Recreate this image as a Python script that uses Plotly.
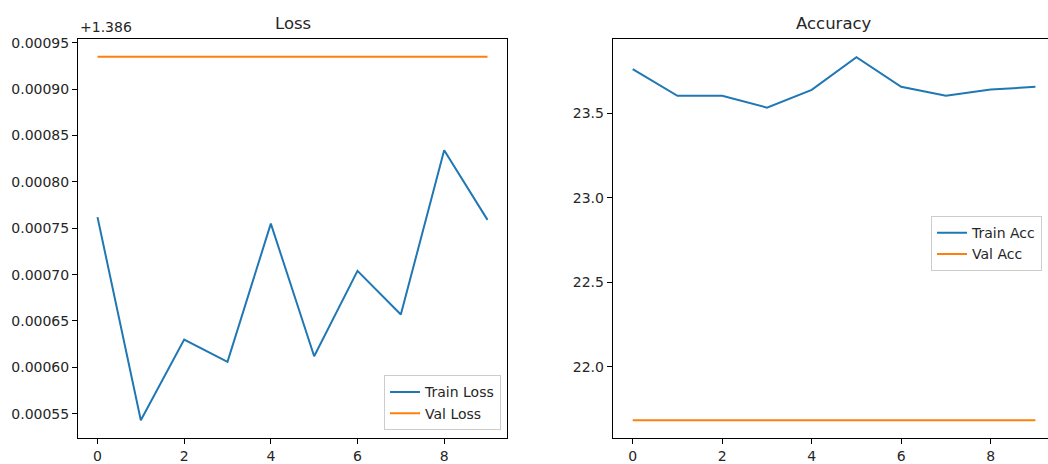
import plotly.graph_objects as go

# ---- data ----
epochs = [0, 1, 2, 3, 4, 5, 6, 7, 8, 9]
loss_offset = 1.386
train_loss = [1.386762, 1.386543, 1.386630, 1.386606, 1.386755,
              1.386612, 1.386704, 1.386657, 1.386834, 1.386759]
val_loss = [1.386935, 1.386935, 1.386935, 1.386935, 1.386935,
            1.386935, 1.386935, 1.386935, 1.386935, 1.386935]
train_acc = [23.763, 23.605, 23.605, 23.535, 23.640,
             23.833, 23.658, 23.605, 23.642, 23.658]
val_acc = [21.683, 21.683, 21.683, 21.683, 21.683,
           21.683, 21.683, 21.683, 21.683, 21.683]
loss_ticks = [0.00055, 0.00060, 0.00065, 0.00070, 0.00075, 0.00080, 0.00085, 0.00090, 0.00095]
acc_ticks = [22.0, 22.5, 23.0, 23.5]
x_ticks = [0, 2, 4, 6, 8]

BLUE = "#1f77b4"
ORANGE = "#ff7f0e"
FONT = "DejaVu Sans"
TXT = "#262626"

W, H = 1048, 464

fig = go.Figure()
fig.add_trace(go.Scatter(x=epochs, y=[v - loss_offset for v in train_loss], mode="lines",
                         name="Train Loss", line=dict(color=BLUE, width=2),
                         xaxis="x", yaxis="y", legend="legend"))
fig.add_trace(go.Scatter(x=epochs, y=[v - loss_offset for v in val_loss], mode="lines",
                         name="Val Loss", line=dict(color=ORANGE, width=2),
                         xaxis="x", yaxis="y", legend="legend"))
fig.add_trace(go.Scatter(x=epochs, y=train_acc, mode="lines",
                         name="Train Acc", line=dict(color=BLUE, width=2),
                         xaxis="x2", yaxis="y2", legend="legend2"))
fig.add_trace(go.Scatter(x=epochs, y=val_acc, mode="lines",
                         name="Val Acc", line=dict(color=ORANGE, width=2),
                         xaxis="x2", yaxis="y2", legend="legend2"))

def px_x(p):
    return p / W

def px_y(p):
    return 1 - p / H

ax_common = dict(showgrid=False, zeroline=False, showline=True, linecolor="#000000",
                 linewidth=1, ticks="outside", ticklen=5, tickcolor="#000000",
                 tickfont=dict(family=FONT, size=14, color=TXT))

legend_common = dict(bgcolor="rgba(255,255,255,0.8)", bordercolor="#cccccc", borderwidth=1,
                     font=dict(family=FONT, size=14, color=TXT), tracegroupgap=0,
                     itemwidth=30)

fig.update_layout(
    width=W, height=H,
    margin=dict(l=0, r=0, t=0, b=0),
    paper_bgcolor="white", plot_bgcolor="white",
    showlegend=True,
    xaxis=dict(domain=[px_x(78), px_x(507)], range=[-0.45, 9.45], tickvals=x_ticks,
               mirror=True, anchor="y", **ax_common),
    yaxis=dict(domain=[px_y(440), px_y(35)], range=[0.0005235, 0.0009545],
               tickvals=loss_ticks, tickformat=".5f", mirror=True, anchor="x", **ax_common),
    xaxis2=dict(domain=[px_x(612.7), 1.0], range=[-0.447, 9.281], tickvals=x_ticks,
                mirror=True, anchor="y2", **ax_common),
    yaxis2=dict(domain=[px_y(440), px_y(35)], range=[21.576, 23.944],
                tickvals=acc_ticks, tickformat=".1f", mirror=False, anchor="x2", **ax_common),
    legend=dict(x=px_x(501), y=px_y(432), xanchor="right", yanchor="bottom", **legend_common),
    legend2=dict(x=px_x(931), y=px_y(215), xanchor="left", yanchor="top", **legend_common),
    annotations=[
        dict(text="Loss", x=px_x(292.5), y=px_y(20), xref="paper", yref="paper",
             xanchor="center", yanchor="middle", showarrow=False,
             font=dict(family=FONT, size=16.5, color=TXT)),
        dict(text="Accuracy", x=px_x(833.5), y=px_y(20), xref="paper", yref="paper",
             xanchor="center", yanchor="middle", showarrow=False,
             font=dict(family=FONT, size=16.5, color=TXT)),
        dict(text="+1.386", x=px_x(78), y=px_y(33), xref="paper", yref="paper",
             xanchor="left", yanchor="bottom", showarrow=False,
             font=dict(family=FONT, size=14, color=TXT)),
    ],
)

fig.write_html("out.html",
               config={"displayModeBar": False},
               post_script="document.body.style.margin='0';document.body.style.overflow='hidden';")
